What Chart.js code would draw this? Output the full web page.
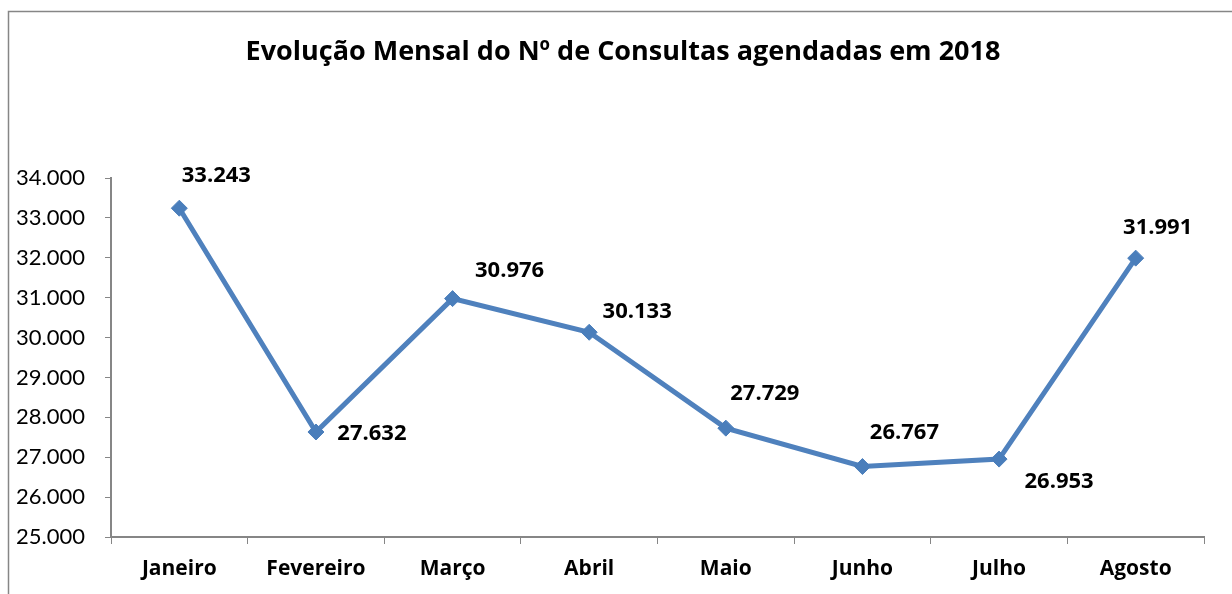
<!DOCTYPE html>
<html>
<head>
<meta charset="utf-8">
<script src="https://cdn.jsdelivr.net/npm/chart.js@4.4.0/dist/chart.umd.min.js"></script>
<style>
  html, body { margin: 0; padding: 0; background: #fff; }
  #wrap { width: 1232px; height: 594px; }
</style>
</head>
<body>
<div id="wrap"><canvas id="chart" width="1232" height="594"></canvas></div>
<script>
// --- data ---
const titleText = 'Evolução Mensal do Nº de Consultas agendadas em 2018';
const months = ['Janeiro', 'Fevereiro', 'Março', 'Abril', 'Maio', 'Junho', 'Julho', 'Agosto'];
const consultas = [33243, 27632, 30976, 30133, 27729, 26767, 26953, 31991];
const yMin = 25000;
const yMax = 34000;
const yStep = 1000;

// label offsets (px) from each point, as in the original
const labelOffsets = [[37, -32], [56, 2], [57, -28], [48, -21], [39, -34], [42, -34], [60, 23], [22, -30]];

const FONT = 'Lato, "Open Sans", sans-serif';
const BOLD_FONT = '"Open Sans", Lato, sans-serif';
const AXIS = '#868686';
const BLUE = '#4f81bd';

const fmt = v => String(Math.round(v)).replace(/\B(?=(\d{3})+(?!\d))/g, '.');

// frame (left + top border of the chart object) and the title,
// centred on the whole chart object rather than the plot
const framePlugin = {
  id: 'frame',
  beforeDraw(chart) {
    const ctx = chart.ctx;
    ctx.save();
    ctx.strokeStyle = AXIS;
    ctx.lineWidth = 1.5;
    ctx.beginPath();
    ctx.moveTo(8.5, 594);
    ctx.lineTo(8.5, 11.5);
    ctx.lineTo(1232, 11.5);
    ctx.stroke();

    ctx.font = 'bold 27px ' + BOLD_FONT;
    ctx.fillStyle = '#000';
    ctx.textAlign = 'center';
    ctx.textBaseline = 'middle';
    ctx.fillText(titleText, 623, 52);
    ctx.restore();
  }
};

// bold value labels next to each marker
const valueLabels = {
  id: 'valueLabels',
  afterDatasetsDraw(chart) {
    const ctx = chart.ctx;
    const meta = chart.getDatasetMeta(0);
    ctx.save();
    ctx.font = 'bold 22px ' + BOLD_FONT;
    ctx.fillStyle = '#000';
    ctx.textAlign = 'center';
    ctx.textBaseline = 'middle';
    meta.data.forEach((pt, i) => {
      const [dx, dy] = labelOffsets[i];
      ctx.fillText(fmt(consultas[i]), pt.x + dx, pt.y + dy);
    });
    ctx.restore();
  }
};

new Chart(document.getElementById('chart'), {
  type: 'line',
  data: {
    labels: months,
    datasets: [{
      data: consultas,
      borderColor: BLUE,
      borderWidth: 5,
      pointStyle: 'rectRot',
      pointRadius: 8,
      pointBackgroundColor: '#4a7ebb',
      pointBorderColor: '#4a7ebb',
      pointBorderWidth: 1,
      tension: 0,
    }],
  },
  options: {
    responsive: false,
    animation: false,
    layout: { padding: { left: 0, right: 28, top: 178, bottom: 0 } },
    plugins: {
      legend: { display: false },
      tooltip: { enabled: false },
      title: { display: false },
    },
    scales: {
      x: {
        offset: true,
        grid: { display: true, drawOnChartArea: false, offset: true, color: AXIS, tickLength: 7, tickColor: AXIS },
        border: { color: AXIS, width: 2 },
        ticks: { color: '#000', font: { family: BOLD_FONT, size: 21, weight: 'bold' }, padding: 12, maxRotation: 0 },
        afterFit(scale) { scale.height = 57; },
      },
      y: {
        min: yMin,
        max: yMax,
        grid: { display: true, drawOnChartArea: false, color: AXIS, tickLength: 6, tickColor: AXIS },
        border: { color: AXIS, width: 2 },
        ticks: {
          stepSize: yStep,
          color: '#000',
          font: { family: FONT, size: 22 },
          padding: 20,
          callback: v => fmt(v),
        },
        afterFit(scale) { scale.width = 111; },
      },
    },
  },
  plugins: [framePlugin, valueLabels],
});
</script>
</body>
</html>
